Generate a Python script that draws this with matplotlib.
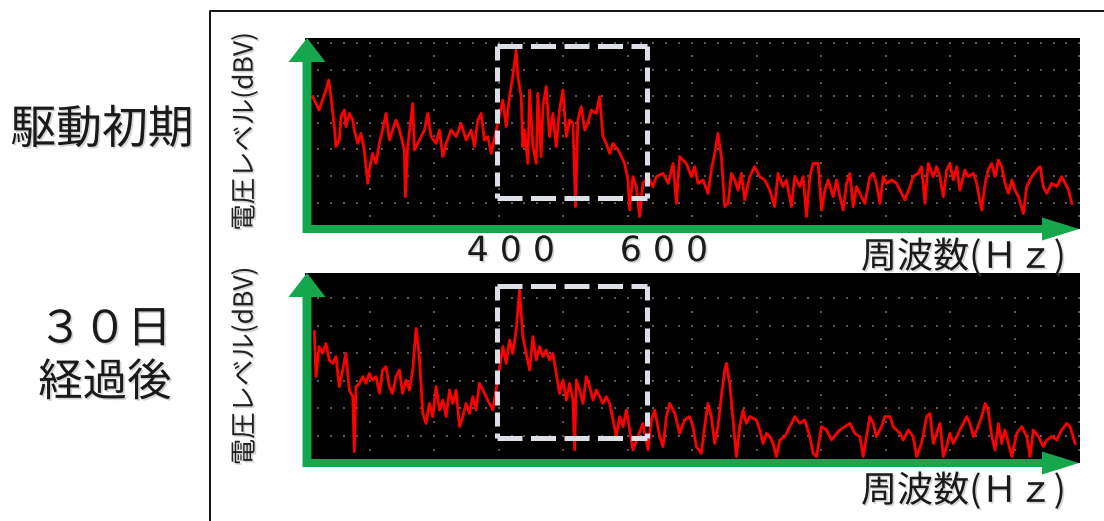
import matplotlib
matplotlib.use("Agg")
import matplotlib.pyplot as plt
import matplotlib.patheffects as pe
from matplotlib.patches import FancyArrow
import numpy as np

plt.rcParams['font.family'] = ['Noto Sans CJK JP', 'DejaVu Sans']

# 駆動初期 spectrum (Hz, dBV)
top_freq = [159.5,168,177,180.5,183.5,188,190,194.5,196.6,201,
            203,207.5,212,214,218.4,222.7,227,231.5,233.6,238,
            242.4,246.7,251,255.4,259.8,264,268.5,273,279.4,280.7,
            283.8,290.3,292.5,299,305.6,310,314.3,320.8,325.2,329.6,
            334,340.5,347,353.5,360,366.6,371,375.3,379.7,384,
            388.4,392.8,408,412.4,416.8,421,425.5,427.7,432,434.2,
            436.4,440.7,443,447.3,451.6,453.8,458,460.4,464.7,469,
            473.4,477.8,482,486.5,491,495.2,499.6,503,506,510.5,
            515,519,523.6,530,534.5,538.8,543,547.6,552,558.5,
            563,567,571.5,573.7,578,582.4,586.8,591,597.7,604,
            608.6,617.3,624,630.4,634.8,639,
            647.7,654.3,658.6,663,669.5,676,680.4,684.8,689,693.5,
            697.9,702.2,706.6,711,715.3,719.7,724,730.6,737,743.6,
            750,756.7,763,767.6,774,778.5,785,789.4,796,800.3,
            804.7,809,813.4,820,824.3,828.7,833,839.6,844,848.3,
            852.6,857,861.4,865.7,870,876.6,881,887.5,892,896,
            900.6,905,909.3,916,922.4,929,933.3,940,944,950.7,
            955,959.5,963.8,970.4,974.7,979,983.4,987.8,992,996.5,
            1001,1005,1011.8,1016,1022.7,1027,1033.6,1038,1042,1046.7,
            1051,1055.4,1059.7,1064,1068.5,1073,1077,1081.5,1088,1092.4,
            1099,1105.5,1110,1114,1118.6,1125,1131.7,1138,1142.6,1147,
            1151.3]
top_level = [-33.3,-40,-30,-25,-33.3,-48.3,-58.3,-55,-43.3,-40,
             -48.3,-41.7,-45,-50,-56.7,-51.7,-60,-76.7,-70,-61.7,
             -66.7,-56.7,-50,-41.7,-55,-50,-45,-50,-60,-83.3,
             -58.3,-36.7,-60,-55,-50,-41.7,-53.3,-56.7,-50,-63.3,
             -56.7,-50,-53.3,-46.7,-55,-50,-58.3,-45,-41.7,-55,
             -53.3,-61.7,-35,-48.3,-33.3,-23.3,-10,-23.3,-33.3,-58.3,
             -50,-66.7,-30,-58.3,-66.7,-31.7,-63.3,-38.3,-28.3,-53.3,
             -41.7,-58.3,-40,-30,-53.3,-45,-46.7,-88.3,-45,-38.3,
             -50,-46.7,-40,-41.7,-33.3,-53.3,-56.7,-61.7,-56.7,-60,
             -63.3,-66.7,-75,-90,-73.3,-78.3,-93.3,-76.7,-73.3,-78.3,
             -73.3,-71.7,-76.7,-66.7,-86.7,-63.3,
             -66.7,-73.3,-68.3,-76.7,-75,-81.7,-70,-61.7,-51.7,-63.3,
             -88.3,-86.7,-71.7,-75,-80,-71.7,-85,-73.3,-68.3,-73.3,
             -75,-80,-88.3,-71.7,-78.3,-75,-88.3,-73.3,-78.3,-73.3,
             -93.3,-73.3,-66.7,-66.7,-90,-80,-75,-83.3,-75,-83.3,
             -90,-76.7,-71.7,-88.3,-78.3,-83.3,-86.7,-73.3,-71.7,-76.7,
             -86.7,-73.3,-76.7,-75,-76.7,-81.7,-85,-78.3,-73.3,-71.7,
             -68.3,-86.7,-66.7,-73.3,-68.3,-73.3,-83.3,-70,-66.7,-75,
             -68.3,-80,-70,-73.3,-71.7,-76.7,-90,-76.7,-70,-66.7,
             -73.3,-65,-68.3,-76.7,-81.7,-75,-80,-83.3,-91.7,-78.3,
             -73.3,-70,-68.3,-78.3,-81.7,-76.7,-78.3,-73.3,-76.7,-80,
             -86.7]

# 30日経過後 spectrum (Hz, dBV)
bot_freq = [161.7,164,168,172.6,177,181.3,185.7,190,194.4,198.8,
            203,207.5,212,214,216.2,220.6,225,229.3,233.6,238,
            242.4,246.7,251,255.4,259.8,264,268.5,273,277,281.6,
            286,290.3,294.7,299,303.4,307.8,312,316.5,320.8,325.2,
            329.6,334,338.3,342.6,347,351.4,355.7,360,364.4,368.8,
            373,377.5,382,386,390.6,395,408,412.4,416.8,421,
            425.5,429.8,434.2,438.6,443,447.3,451.6,456,460.4,464.7,
            469,473.4,477.8,482,486.5,491,495.2,499.6,501.8,504,
            508.3,512.7,517,521.4,525.8,530,534.5,538.8,543,547.6,
            552,556.3,560.6,565,569.4,573.7,578,584.6,591,597.7,
            602,606.4,613,617.3,621.7,626,632.6,639,
            645.5,652,656.4,660.8,667.3,671.7,676,680.4,684.8,689,
            693.5,697.9,700,704.4,708.8,713,717.5,721.8,726,730.6,
            739.3,743.6,748,752.4,756.7,761,765.4,769.8,776.3,783,
            789.4,796,802.5,809,813.4,817.8,824.3,830.8,837.4,844,
            848.3,854.8,861.4,868,874.4,878.8,883,887.5,892,896,
            902.8,907,913.7,918,922.4,926.8,931,937.7,944,948.6,
            955,961.6,966,970.4,974.7,979,983.4,987.8,992,996.5,
            1001,1005,1009.6,1014,1018.3,1022.7,1027,1033.6,1038,1042,
            1046.7,1051,1055.4,1059.7,1064,1068.5,1073,1079.4,1086,1092.4,
            1096.8,1101,1107.7,1114,1118.6,1125,1131.7,1138,1144.8,1149,
            1155.6]
bot_level = [-30.8,-53.3,-38.3,-41.7,-36.7,-45,-46.7,-43.3,-58.3,-50,
             -41.7,-60,-63.3,-90.8,-58.3,-56.7,-53.3,-56.7,-51.7,-55,
             -53.3,-61.7,-50,-48.3,-58.3,-61.7,-53.3,-50,-61.7,-55,
             -60,-50,-29.2,-43.3,-71.7,-76.7,-66.7,-73.3,-58.3,-70,
             -65,-73.3,-60,-66.7,-60,-78.3,-73.3,-66.7,-71.7,-63.3,
             -70,-56.7,-60,-63.3,-66.7,-70,-38.3,-46.7,-35,-41.7,
             -30,-10,-33.3,-41.7,-50,-33.3,-45,-38.3,-43.3,-40,
             -45,-41.7,-51.7,-61.7,-55,-65,-56.7,-65,-90,-55,
             -60,-66.7,-53.3,-58.3,-65,-60,-63.3,-66.7,-63.3,-66.7,
             -75,-83.3,-73.3,-78.3,-70,-80,-90,-83.3,-76.7,-90,
             -75,-70,-83.3,-88.3,-73.3,-66.7,-71.7,-81.7,
             -75,-73.3,-78.3,-88.3,-91.7,-78.3,-66.7,-73.3,-86.7,-78.3,
             -63.3,-50,-46.7,-56.7,-75,-93.3,-78.3,-70,-76.7,-73.3,
             -75,-80,-86.7,-81.7,-83.3,-86.7,-93.3,-85,-83.3,-78.3,
             -73.3,-76.7,-75,-83.3,-91.7,-93.3,-78.3,-80,-85,-81.7,
             -80,-78.3,-76.7,-81.7,-83.3,-93.3,-83.3,-73.3,-76.7,-83.3,
             -78.3,-73.3,-73.3,-78.3,-80,-81.7,-85,-80,-83.3,-93.3,
             -86.7,-73.3,-71.7,-86.7,-81.7,-76.7,-93.3,-88.3,-81.7,-86.7,
             -83.3,-80,-76.7,-73.3,-76.7,-83.3,-80,-73.3,-66.7,-70,
             -83.3,-90,-76.7,-86.7,-80,-86.7,-93.3,-81.7,-78.3,-83.3,
             -93.3,-80,-83.3,-88.3,-85,-83.3,-85,-80,-76.7,-78.3,
             -86.7]

row_labels = ["駆動初期", "３０日\n経過後"]
ylab = "電圧レベル(dBV)"
xlab = "周波数(Ｈｚ)"
band = [400, 600]
band_labels = ["4 0 0", "6 0 0"]
box_f = (401, 596)
box_lv = (-8, -84)

GREEN = '#16a74c'
W, H = 1104, 521

fig = plt.figure(figsize=(W/100, H/100), dpi=100)
fig.patch.set_facecolor('white')

def rect(l, t, r, b):
    return [l/W, 1 - b/H, (r-l)/W, (b-t)/H]

panels = [
    dict(box=(305, 38, 1080, 229), ylim=(-99.5, -4), f=top_freq, v=top_level,
         rows=(-6.5, 13.3, 7)),
    dict(box=(305, 273, 1080, 463), ylim=(-96.5, -1.5), f=bot_freq, v=bot_level,
         rows=(-14, 13.8, 6)),
]

shadow = [pe.SimplePatchShadow(offset=(1.2, -1.2), shadow_rgbFace='#888888', alpha=0.35), pe.Normal()]

axes = []
for p in panels:
    ax = fig.add_axes(rect(*p['box']))
    ax.set_facecolor('black')
    ax.set_xlim(149.6, 1162)
    ax.set_ylim(*p['ylim'])
    for s in ax.spines.values():
        s.set_visible(False)
    ax.set_xticks([]); ax.set_yticks([])

    # graticule dots
    r0, rs, nr = p['rows']
    rows = r0 - rs*np.arange(nr)
    xs = np.arange(149.6 + 16.86, 1162, 16.86)
    gx, gy = np.meshgrid(xs, rows)
    ax.scatter(gx.ravel(), gy.ravel(), s=3, marker='s', color='#5a5a5a', lw=0, zorder=1)
    cols = np.arange(149.6 + 84.3, 1162, 84.3)
    mids = rows - rs/2
    cx, cy = np.meshgrid(cols, mids)
    ax.scatter(cx.ravel(), cy.ravel(), s=3, marker='s', color='#5a5a5a', lw=0, zorder=1)

    ax.plot(p['f'], p['v'], color='#ff0000', lw=2.0, zorder=3)

    # dashed band box
    bc = '#dcdfe8'
    ax.plot(box_f, [box_lv[0]]*2, color=bc, lw=3.6, ls=(0, (5, 1.7)), zorder=4)
    ax.plot(box_f, [box_lv[1]]*2, color=bc, lw=3.6, ls=(0, (5, 1.7)), zorder=4)
    ax.plot([box_f[0]]*2, box_lv, color=bc, lw=3.6, ls=(0, (2.8, 1.4)), zorder=4)
    ax.plot([box_f[1]]*2, box_lv, color=bc, lw=3.6, ls=(0, (2.8, 1.4)), zorder=4)
    axes.append(ax)

ov = fig.add_axes([0, 0, 1, 1], zorder=10)
ov.set_xlim(0, W); ov.set_ylim(H, 0)
ov.axis('off')

# frame
ov.plot([210, 210, W], [H, 11, 11], color='black', lw=1.3)

for p in panels:
    l, t, r, b = p['box']
    ov.add_patch(FancyArrow(l + 2, b + 4, 0, -(b + 4 - t), width=9, head_width=37,
                            head_length=24, length_includes_head=True, color=GREEN, lw=0))
    ov.add_patch(FancyArrow(l - 2, b, r - l + 1, 0, width=8, head_width=23,
                            head_length=37, length_includes_head=True, color=GREEN, lw=0))
    ov.text(245, (t + b)/2 - 2, ylab, rotation=90, ha='center', va='center',
            fontsize=19, color='#222222', path_effects=shadow)
    ov.text(1066, b + 28, xlab, ha='right', va='center', fontsize=26,
            color='#1a1a1a', path_effects=shadow)

ov.text(102, 130, row_labels[0], ha='center', va='center', fontsize=33,
        color='#1a1a1a', path_effects=shadow)
ov.text(105, 356, row_labels[1], ha='center', va='center', fontsize=32,
        color='#1a1a1a', linespacing=1.2, path_effects=shadow)

# band edge labels (placed via top panel data scale)
for f, lab in zip(band, band_labels):
    xpix = axes[0].transData.transform((f, 0))[0]
    ov.text(xpix + 14, 251, lab, ha='center', va='center', fontsize=25,
            family='DejaVu Sans', color='#1a1a1a', path_effects=shadow)

fig.savefig('out.png', dpi=100)
